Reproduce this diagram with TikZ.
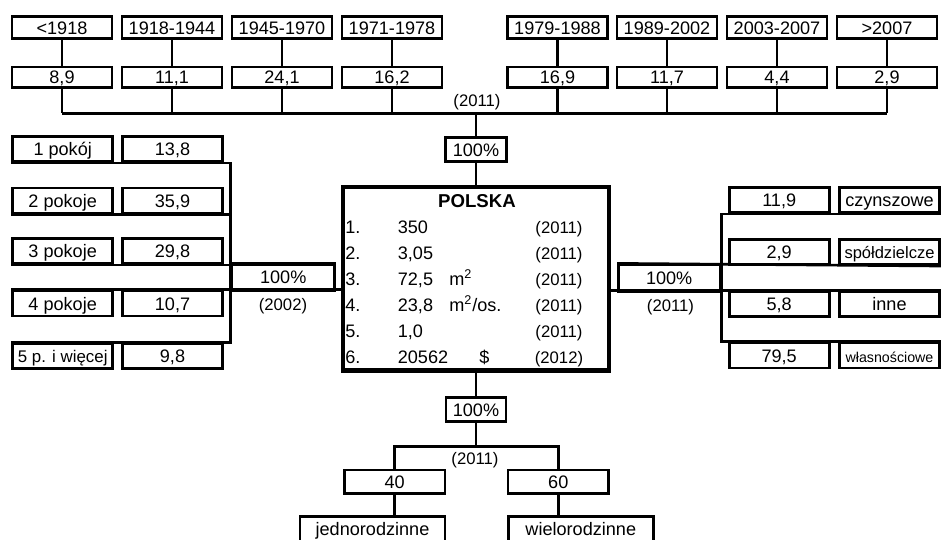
\documentclass[tikz,border=0pt]{standalone}
\usepackage{fontspec}
\setmainfont{Liberation Sans}
\usepackage{tikz}
\usetikzlibrary{calc}
\newcommand{\mainsz}{\fontsize{10.3}{12}\selectfont}
\newcommand{\yrsz}{\fontsize{9.5}{11}\selectfont}
\tikzset{
  cell/.style={draw,line width=1.5pt,inner sep=0pt,minimum width=2cm,minimum height=0.5cm,
    text height=7.4pt,text depth=0pt,font=\mainsz},
  conn/.style={line width=1.5pt},
  yrlab/.style={inner sep=0pt,font=\yrsz},
  txt/.style={inner sep=0pt,anchor=base west,font=\mainsz},
}

\begin{document}
\begin{tikzpicture}[x=0.02cm,y=-0.02cm]
  \clip(0,0)rectangle(941,539);
  % lata budowy
  \coordinate(bus)at(476,113.3);
  \foreach \xx/\lab/\val [count=\i] in {62/{<1918}/{8,9},172/1918-1944/{11,1},282/1945-1970/{24,1},392/1971-1978/{16,2},
      557.5/1979-1988/{16,9},667/1989-2002/{11,7},777/2003-2007/{4,4},887/{>2007}/{2,9}}{
    \node[cell,minimum height=0.45cm](y\i)at(\xx,27.5){\lab};
    \node[cell,minimum height=0.41cm](v\i)at(\xx,77.2){\val};
    \draw[conn](y\i)--(v\i);
    \draw[conn](v\i)--(v\i|-bus);
  }
  \draw[conn](v1|-bus)--(v8|-bus);
  \node[yrlab](ytop)at(477,102){(2011)};
  \node[cell,minimum width=1.23cm,minimum height=0.48cm](ptop)at(476,149.7){100\%};
  \draw[conn](bus)--(ptop);
  % polska
  \node[draw,line width=2.55pt,minimum width=5.32cm,minimum height=3.67cm,inner sep=0pt](pl)at(476,278.9){};
  \draw[conn](ptop)--(pl);
  \node[txt,anchor=base,font=\fontsize{10.6}{12}\selectfont\bfseries](plh)at(477,207){POLSKA};
  \foreach \yy/\nr/\val/\yr [count=\i] in {233/1./350/2011,259/2./{3,05}/2011,285/3./{72,5}/2011,
      311/4./{23,8}/2011,337/5./{1,0}/2011,363/6./20562/2012}{
    \node[txt](pn\i)at(345,\yy){\nr};
    \node[txt](pv\i)at(397.5,\yy){\val};
    \node[yrlab,anchor=base](py\i)at(559,\yy){(\yr)};
  }
  \node[txt](pu3)at(449,285){m\textsuperscript{2}};
  \node[txt](pu4)at(449,311){m\textsuperscript{2}/os.};
  \node[txt](pu6)at(479,363){\$};
  % liczba pokoi
  \node[cell,minimum width=2.06cm,minimum height=0.55cm](pleft)at(283.25,277.25){100\%};
  \foreach \yy/\lab/\val/\fs [count=\i] in {149/1 pokój/{13,8}/10.3,200.5/2 pokoje/{35,9}/10.3,251/3 pokoje/{29,8}/10.3,
      303.5/4 pokoje/{10,7}/10.3,356/5 p. i więcej/{9,8}/9.6}{
    \node[cell,font=\fontsize{\fs}{11}\selectfont](lr\i)at(62.7,\yy){\lab};
    \node[cell](lv\i)at(172.5,\yy){\val};
  }
  \draw[conn](lr1.south west)--(lr1.south west-|pleft.west)--(lr5.north west-|pleft.west)--(lr5.north west);
  \draw[conn](lr2.south west)--(lr2.south west-|pleft.west);
  \draw[conn](lr3.south west)--(lr3.south west-|pleft.east);
  \draw[conn](lr4.north west)--(lr4.north west-|pl.west);
  \node[yrlab](lyr)at(283,306){(2002)};
  % forma wlasnosci
  \node[cell,minimum width=2.03cm,minimum height=0.54cm](pright)at(669.2,278.2){100\%};
  \foreach \yy/\val/\lab/\fs [count=\i] in {200.2/{11,9}/czynszowe/10.3,252.2/{2,9}/spółdzielcze/9.4,
      304.2/{5,8}/inne/10.3,355.5/{79,5}/własnościowe/8.1}{
    \node[cell](rv\i)at(779.2,\yy){\val};
    \node[cell,font=\fontsize{\fs}{11}\selectfont](rl\i)at(889.5,\yy){\lab};
  }
  \draw[conn](rl1.south east)--(rl1.south east-|pright.east)--(rl4.north east-|pright.east)--(rl4.north east);
  \draw[conn](rl2.south east)--(pright.north west);
  \draw[conn](rl3.north east)--(rl3.north east-|pl.east);
  \node[yrlab](ryr)at(670.5,307){(2011)};
  % typ budynku
  \node[cell,minimum width=1.2cm,minimum height=0.48cm](pbot)at(476,409.7){100\%};
  \draw[conn](pl)--(pbot);
  \coordinate(bbar)at(476,446.7);
  \node[cell,minimum width=2.01cm,minimum height=0.47cm](n40)at(394.7,481.7){40};
  \node[cell,minimum width=2.01cm,minimum height=0.47cm](n60)at(558.3,481.7){60};
  \draw[conn](pbot)--(bbar);
  \draw[conn](n40)|-(bbar)-|(n60);
  \node[yrlab](byr)at(475,460){(2011)};
  \node[cell,minimum width=2.9cm,minimum height=0.6cm,text depth=3pt](nj)at(372.5,531.7){jednorodzinne};
  \node[cell,minimum width=2.9cm,minimum height=0.6cm,text depth=3pt](nw)at(580.8,531.7){wielorodzinne};
  \draw[conn](n40)--(n40|-nj.north);
  \draw[conn](n60)--(n60|-nw.north);
\end{tikzpicture}
\end{document}
